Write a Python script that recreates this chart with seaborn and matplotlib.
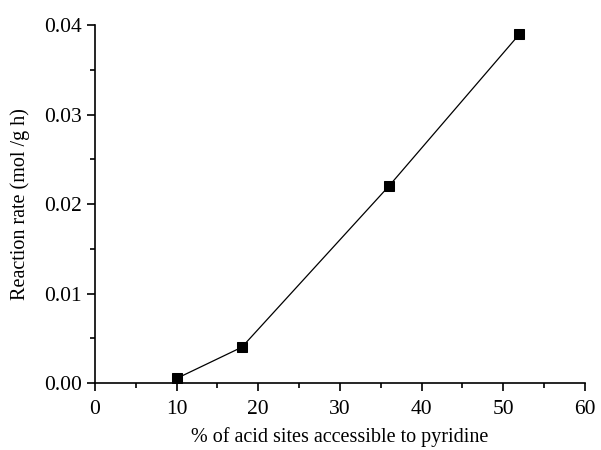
import matplotlib
matplotlib.use("Agg")
import matplotlib.pyplot as plt
import seaborn as sns
import pandas as pd
from matplotlib.ticker import MultipleLocator

x_vals = [10, 18, 36, 52]
rate = [0.0005, 0.004, 0.022, 0.039]

sns.set_theme(style="ticks")
plt.rcParams['font.family'] = ['Liberation Serif', 'DejaVu Serif']

df = pd.DataFrame({"x": x_vals, "y": rate})
fig = plt.figure(figsize=(6.01, 4.5), dpi=100)
ax = fig.add_axes([0.158, 0.149, 0.815, 0.795])
sns.lineplot(data=df, x="x", y="y", ax=ax, color="black", linewidth=0.9,
             marker="s", markersize=7, markeredgecolor="black", markerfacecolor="black")
ax.set_xlim(0, 60)
ax.set_ylim(0, 0.04)
ax.xaxis.set_major_locator(MultipleLocator(10))
ax.xaxis.set_minor_locator(MultipleLocator(5))
ax.yaxis.set_major_locator(MultipleLocator(0.01))
ax.yaxis.set_minor_locator(MultipleLocator(0.005))
ax.yaxis.set_major_formatter(matplotlib.ticker.FormatStrFormatter('%.2f'))
for s in ["top", "right"]:
    ax.spines[s].set_visible(False)
for s in ["left", "bottom"]:
    ax.spines[s].set_color("black")
    ax.spines[s].set_linewidth(1.2)
ax.tick_params(which="major", direction="out", length=6, width=1.2, colors="black", labelsize=15.5)
ax.tick_params(axis="x", which="major", pad=6)
ax.tick_params(which="minor", direction="out", length=3.5, width=1.2, colors="black")
ax.set_xlabel("% of acid sites accessible to pyridine", fontsize=14.5, color="black", labelpad=6)
ax.set_ylabel("Reaction rate (mol /g h)", fontsize=14.5, color="black", labelpad=10)
ax.grid(False)
fig.savefig("out.png", dpi=100)
